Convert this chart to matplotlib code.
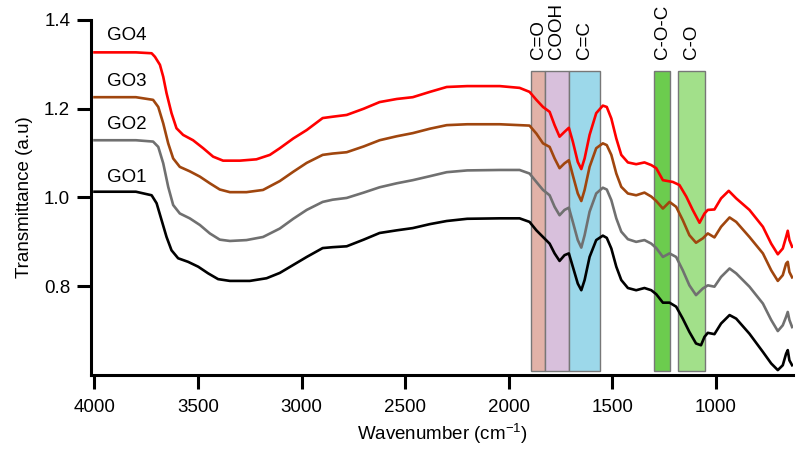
import matplotlib
matplotlib.use('Agg')
import matplotlib.pyplot as plt
from matplotlib.patches import Rectangle

plt.rcParams['font.family'] = ['Liberation Sans', 'DejaVu Sans']

# FTIR spectra (wavenumber cm-1, transmittance a.u.)
go4_x = [4000, 3800, 3724, 3708, 3684, 3668, 3652, 3628, 3604, 3572,
         3524, 3475, 3427, 3379, 3298, 3218, 3153, 3105, 3040, 2975,
         2898, 2850, 2782, 2700, 2623, 2540, 2463, 2380, 2299, 2200,
         2043, 1947, 1899, 1866, 1834, 1802, 1778, 1754, 1730, 1709,
         1690, 1666, 1649, 1633, 1609, 1577, 1545, 1526, 1504, 1480,
         1456, 1424, 1384, 1344, 1311, 1287, 1255, 1207, 1175, 1142,
         1111, 1078, 1054, 1038, 1006, 974, 937, 901, 837, 772,
         732, 700, 676, 660, 652, 644, 631]
go4_y = [1.327, 1.327, 1.325, 1.317, 1.299, 1.272, 1.235, 1.190, 1.156, 1.141,
         1.129, 1.111, 1.092, 1.083, 1.083, 1.086, 1.096, 1.111, 1.133, 1.152,
         1.179, 1.182, 1.186, 1.200, 1.215, 1.222, 1.226, 1.238, 1.249, 1.251,
         1.251, 1.247, 1.238, 1.220, 1.204, 1.193, 1.163, 1.137, 1.148, 1.157,
         1.126, 1.080, 1.064, 1.088, 1.141, 1.190, 1.207, 1.204, 1.178, 1.133,
         1.096, 1.079, 1.075, 1.079, 1.073, 1.066, 1.039, 1.035, 1.028, 1.002,
         0.972, 0.943, 0.964, 0.972, 0.973, 0.998, 1.015, 0.998, 0.972, 0.934,
         0.896, 0.872, 0.885, 0.911, 0.925, 0.904, 0.889]

go3_x = [4000, 3800, 3717, 3692, 3668, 3644, 3620, 3588, 3540, 3491,
         3443, 3395, 3346, 3266, 3186, 3105, 3040, 2975, 2898, 2850,
         2782, 2700, 2623, 2540, 2463, 2380, 2299, 2200, 2043, 1947,
         1899, 1866, 1834, 1802, 1778, 1754, 1730, 1709, 1690, 1666,
         1649, 1633, 1609, 1577, 1545, 1526, 1504, 1480, 1456, 1424,
         1384, 1344, 1311, 1287, 1255, 1223, 1191, 1159, 1127, 1095,
         1062, 1038, 1006, 974, 933, 901, 837, 772, 732, 700,
         676, 660, 652, 644, 631]
go3_y = [1.226, 1.226, 1.220, 1.204, 1.167, 1.122, 1.088, 1.069, 1.059, 1.047,
         1.032, 1.018, 1.012, 1.012, 1.017, 1.037, 1.058, 1.078, 1.096, 1.099,
         1.102, 1.115, 1.129, 1.138, 1.145, 1.155, 1.163, 1.165, 1.165, 1.163,
         1.162, 1.144, 1.122, 1.114, 1.088, 1.066, 1.077, 1.084, 1.050, 1.009,
         0.992, 1.017, 1.069, 1.111, 1.122, 1.118, 1.096, 1.054, 1.024, 1.009,
         1.005, 1.011, 1.002, 0.992, 0.975, 0.990, 0.979, 0.949, 0.915, 0.898,
         0.908, 0.919, 0.910, 0.934, 0.955, 0.945, 0.911, 0.874, 0.836, 0.812,
         0.825, 0.851, 0.855, 0.832, 0.820]

go2_x = [4000, 3800, 3717, 3692, 3668, 3644, 3620, 3588, 3540, 3491,
         3443, 3395, 3346, 3266, 3186, 3105, 3040, 2975, 2898, 2850,
         2782, 2700, 2623, 2540, 2463, 2380, 2299, 2200, 2043, 1947,
         1899, 1866, 1834, 1802, 1778, 1754, 1730, 1709, 1690, 1666,
         1649, 1633, 1609, 1577, 1545, 1526, 1504, 1480, 1456, 1424,
         1384, 1344, 1311, 1287, 1255, 1223, 1191, 1159, 1127, 1095,
         1062, 1038, 1006, 974, 933, 901, 837, 772, 732, 700,
         676, 660, 652, 644, 631]
go2_y = [1.129, 1.129, 1.126, 1.114, 1.077, 1.024, 0.983, 0.964, 0.953, 0.938,
         0.919, 0.905, 0.902, 0.904, 0.911, 0.930, 0.952, 0.972, 0.990, 0.995,
         0.999, 1.011, 1.023, 1.032, 1.039, 1.048, 1.057, 1.061, 1.062, 1.062,
         1.054, 1.035, 1.017, 1.005, 0.979, 0.960, 0.972, 0.977, 0.945, 0.904,
         0.887, 0.915, 0.968, 1.009, 1.022, 1.018, 0.994, 0.953, 0.923, 0.906,
         0.900, 0.904, 0.896, 0.886, 0.866, 0.874, 0.866, 0.836, 0.802, 0.780,
         0.795, 0.802, 0.799, 0.821, 0.840, 0.829, 0.799, 0.761, 0.724, 0.699,
         0.712, 0.731, 0.742, 0.724, 0.708]

go1_x = [4000, 3800, 3724, 3700, 3676, 3652, 3628, 3596, 3548, 3499,
         3451, 3403, 3346, 3250, 3169, 3105, 3040, 2975, 2898, 2850,
         2782, 2700, 2623, 2540, 2463, 2380, 2299, 2200, 2043, 1947,
         1899, 1866, 1834, 1802, 1778, 1754, 1730, 1709, 1690, 1666,
         1649, 1633, 1609, 1577, 1545, 1526, 1504, 1480, 1456, 1424,
         1384, 1344, 1311, 1287, 1255, 1223, 1191, 1159, 1127, 1095,
         1071, 1054, 1038, 1006, 974, 933, 901, 837, 772, 732,
         700, 676, 660, 652, 644, 631]
go1_y = [1.013, 1.013, 1.005, 0.987, 0.949, 0.911, 0.881, 0.863, 0.855, 0.844,
         0.829, 0.816, 0.812, 0.812, 0.818, 0.830, 0.848, 0.866, 0.886, 0.888,
         0.890, 0.905, 0.920, 0.926, 0.931, 0.940, 0.947, 0.952, 0.953, 0.953,
         0.945, 0.926, 0.911, 0.896, 0.874, 0.857, 0.870, 0.874, 0.844, 0.806,
         0.791, 0.814, 0.866, 0.904, 0.914, 0.909, 0.885, 0.844, 0.814, 0.796,
         0.791, 0.796, 0.791, 0.782, 0.763, 0.763, 0.754, 0.727, 0.697, 0.671,
         0.667, 0.686, 0.695, 0.692, 0.716, 0.735, 0.727, 0.693, 0.652, 0.626,
         0.611, 0.622, 0.648, 0.656, 0.633, 0.622]

# functional group bands (high / low wavenumber edge)
band_names = ['C=O', 'COOH', 'C=C', 'C-O-C', 'C-O']
band_hi = [1890, 1824, 1710, 1298, 1182]
band_lo = [1824, 1710, 1557, 1219, 1052]
band_colors = ['#e2b2a8', '#d8c0dc', '#9cd8ea', '#6ccc4e', '#a2e08a']

fig = plt.figure(figsize=(8.05, 4.5), dpi=100)
ax = fig.add_axes([0.113, 0.1667, 0.872, 0.7889])

for name, hi, lo, c in zip(band_names, band_hi, band_lo, band_colors):
    ax.add_patch(Rectangle((lo, 0.61), hi - lo, 0.675, facecolor=c,
                           edgecolor='#777777', linewidth=1, zorder=1))
    ax.text((hi + lo) / 2, 1.312, name, rotation=90, ha='center', va='bottom',
            fontsize=13.5, clip_on=False)

lw = 1.9
ax.plot(go1_x, go1_y, color='black', lw=lw, zorder=3)
ax.plot(go2_x, go2_y, color='#707070', lw=lw, zorder=3)
ax.plot(go3_x, go3_y, color='#a0460e', lw=lw, zorder=3)
ax.plot(go4_x, go4_y, color='#ff0000', lw=lw, zorder=3)

ax.text(3940, 1.366, 'GO4', fontsize=13.5, va='center')
ax.text(3940, 1.262, 'GO3', fontsize=13.5, va='center')
ax.text(3940, 1.165, 'GO2', fontsize=13.5, va='center')
ax.text(3940, 1.046, 'GO1', fontsize=13.5, va='center')

ax.set_xlim(4017, 627)
ax.set_ylim(0.6, 1.4)
ax.set_xticks([4000, 3500, 3000, 2500, 2000, 1500, 1000])
ax.set_yticks([0.8, 1.0, 1.2, 1.4])
ax.set_yticklabels(['0.8', '1.0', '1.2', '1.4'])

for s in ['top', 'right']:
    ax.spines[s].set_visible(False)
for s in ['left', 'bottom']:
    ax.spines[s].set_linewidth(2.2)
ax.tick_params(direction='out', length=10, width=2.2, labelsize=13.5)
ax.tick_params(axis='x', pad=7)
ax.tick_params(axis='y', pad=5)

ax.set_xlabel(r'Wavenumber (cm$^{\mathregular{-1}}$)', fontsize=13.5, labelpad=4)
ax.set_ylabel('Transmittance (a.u)', fontsize=13.5, labelpad=8)

plt.savefig('out.png', dpi=100)
